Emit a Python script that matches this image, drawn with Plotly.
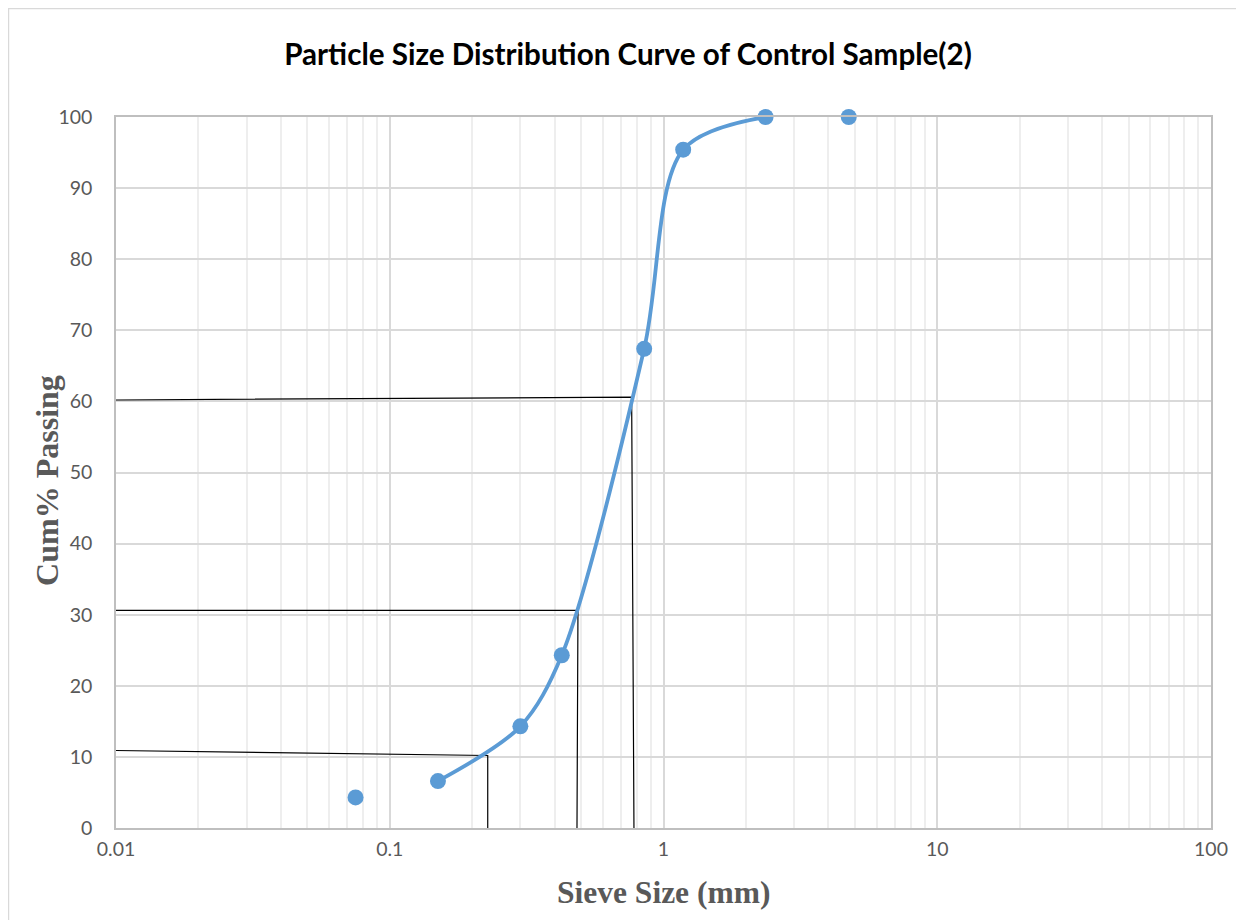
import plotly.graph_objects as go

# Data
sieve_sizes = [0.075, 0.15, 0.3, 0.425, 0.85, 1.18, 2.36, 4.75]
cum_passing = [4.3, 6.6, 14.3, 24.3, 67.4, 95.4, 100.0, 100.0]
curve_sizes = [0.15, 0.3, 0.425, 0.85, 1.18, 2.36]
curve_passing = [6.6, 14.3, 24.3, 67.4, 95.4, 100.0]
d_labels = ["D10", "D30", "D60"]
d_percent_left = [10.9, 30.6, 60.2]
d_percent_right = [10.2, 30.6, 60.6]
d_sizes_top = [0.228, 0.487, 0.765]
d_sizes_bottom = [0.228, 0.483, 0.78]
x_ticks = [0.01, 0.1, 1, 10, 100]
x_ticktext = ["0.01", "0.1", "1", "10", "100"]

BLUE = "#5B9BD5"
GRAY_TXT = "#595959"

fig = go.Figure()

# D-value guide lines
for lab, pl, pr, dt, db in zip(d_labels, d_percent_left, d_percent_right,
                               d_sizes_top, d_sizes_bottom):
    fig.add_trace(go.Scatter(
        x=[0.01, dt, db], y=[pl, pr, 0], mode="lines",
        line=dict(color="black", width=1.2), hoverinfo="skip",
        showlegend=False, name=lab, cliponaxis=False))

# Smoothed gradation curve
fig.add_trace(go.Scatter(
    x=curve_sizes, y=curve_passing, mode="lines",
    line=dict(color=BLUE, width=3.8, shape="spline", smoothing=0.9),
    showlegend=False, hoverinfo="skip"))

# Data points
fig.add_trace(go.Scatter(
    x=sieve_sizes, y=cum_passing, mode="markers",
    marker=dict(color=BLUE, size=16), showlegend=False, cliponaxis=False))

fig.update_layout(
    width=1236, height=912,
    margin=dict(l=108, r=33, t=109, b=92),
    paper_bgcolor="white", plot_bgcolor="white",
    title=dict(text="<b>Particle Size Distribution Curve of Control Sample(2)</b>",
               x=0.5016, xanchor="center", y=0.9485, yanchor="middle",
               font=dict(family="Lato", size=29.6, color="black")),
    font=dict(family="Lato", color=GRAY_TXT),
    shapes=[dict(type="rect", xref="paper", yref="paper",
                 x0=-0.0982, x1=1.2, y0=-0.3, y1=1.1526,
                 line=dict(color="#D9D9D9", width=1.5), layer="below")],
    annotations=[
        dict(text="<b>Cum% Passing</b>", xref="paper", yref="paper",
             x=-0.0625, y=0.489, xanchor="center", yanchor="middle",
             textangle=-90, showarrow=False,
             font=dict(family="Liberation Serif", size=32, color=GRAY_TXT)),
        dict(text="<b>Sieve Size (mm)</b>", xref="paper", yref="paper",
             x=0.5, y=-0.0914, xanchor="center", yanchor="middle",
             showarrow=False,
             font=dict(family="Liberation Serif", size=31.5, color=GRAY_TXT)),
    ],
)

fig.update_xaxes(
    type="log", range=[-2, 2],
    tickvals=x_ticks, ticktext=x_ticktext,
    tickfont=dict(family="Lato", size=19.5, color=GRAY_TXT),
    showgrid=True, gridcolor="#D9D9D9", gridwidth=1.5,
    minor=dict(dtick="D1", showgrid=True, gridcolor="#EEEEEE", gridwidth=1.5, ticks=""),
    showline=True, linecolor="#BFBFBF", linewidth=1.5, mirror=True,
    zeroline=False, ticks="", ticklabelstandoff=3,
)
fig.update_yaxes(
    range=[0, 100], dtick=10,
    tickfont=dict(family="Lato", size=19.5, color=GRAY_TXT),
    showgrid=True, gridcolor="#D9D9D9", gridwidth=1.5,
    showline=True, linecolor="#BFBFBF", linewidth=1.5, mirror=True,
    zeroline=False, ticks="", ticklabelstandoff=18,
)

fig.write_html("out.html")
